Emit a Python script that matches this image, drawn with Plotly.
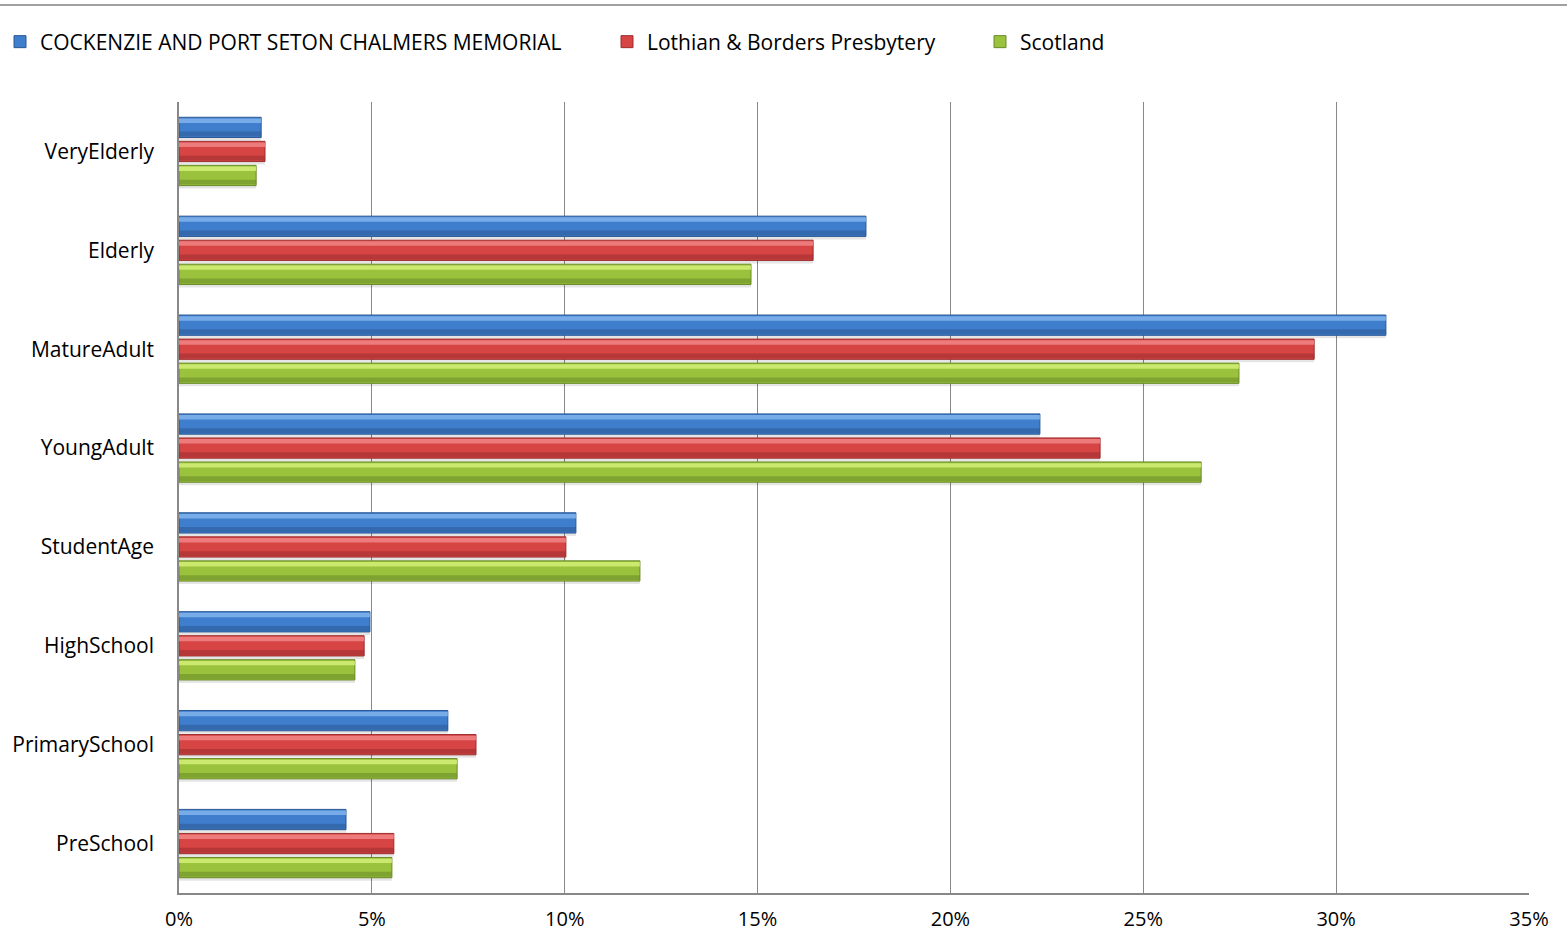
import plotly.graph_objects as go

categories = ["VeryElderly", "Elderly", "MatureAdult", "YoungAdult",
              "StudentAge", "HighSchool", "PrimarySchool", "PreSchool"]
cockenzie = [2.13, 17.81, 31.29, 22.32, 10.29, 4.95, 6.97, 4.33]
lothian = [2.23, 16.44, 29.43, 23.88, 10.03, 4.80, 7.70, 5.57]
scotland = [2.00, 14.83, 27.48, 26.50, 11.95, 4.56, 7.21, 5.52]
series_names = ["COCKENZIE AND PORT SETON CHALMERS MEMORIAL",
                "Lothian & Borders Presbytery", "Scotland"]
x_ticks = [0, 5, 10, 15, 20, 25, 30, 35]

W, H = 1567, 935
PX0, PX1, PY0, PY1 = 179, 1529, 102, 893  # plot area in pixels

body = ["#3F7ECD", "#D64444", "#9AC23C"]
light = ["#86B8F0", "#F28A8A", "#D6F27A"]
dark = ["#2B5894", "#9C2E2E", "#6A8A28"]
centers = [-0.243, 0.0, 0.243]
legend_ids = ["legend", "legend2", "legend3"]
legend_px = [0, 607, 980]
BW = 0.205

fig = go.Figure()
for vals, name, c, lc, dc, cen, lg in zip([cockenzie, lothian, scotland], series_names,
                                          body, light, dark, centers, legend_ids):
    fig.add_trace(go.Bar(y=categories, x=vals, orientation="h", showlegend=False,
                         hoverinfo="skip", width=BW, offset=cen - BW / 2 + 0.03,
                         marker=dict(color="rgba(0,0,0,0.10)", line=dict(width=0))))
    fig.add_trace(go.Bar(y=categories, x=vals, orientation="h", name=name, legend=lg,
                         width=BW, offset=cen - BW / 2,
                         marker=dict(color=c, line=dict(color=dc, width=1))))
    fig.add_trace(go.Bar(y=categories, x=vals, orientation="h", showlegend=False,
                         hoverinfo="skip", width=0.045, offset=cen - BW / 2 + 0.012,
                         marker=dict(color=lc, opacity=0.8, line=dict(width=0))))
    fig.add_trace(go.Bar(y=categories, x=vals, orientation="h", showlegend=False,
                         hoverinfo="skip", width=0.05, offset=cen + BW / 2 - 0.06,
                         marker=dict(color=dc, opacity=0.55, line=dict(width=0))))

font = dict(family="Open Sans, Liberation Sans, sans-serif", size=21, color="#000000")
xfont = dict(family="Open Sans, Liberation Sans, sans-serif", size=20, color="#000000")
leg_common = dict(orientation="h", yanchor="middle", xanchor="left", y=(H - 42) / H,
                  font=font, bgcolor="rgba(0,0,0,0)", itemwidth=30)

fig.update_layout(
    width=W, height=H,
    margin=dict(l=0, r=0, t=0, b=0),
    paper_bgcolor="white", plot_bgcolor="white",
    barmode="overlay",
    showlegend=True,
    font=font,
    legend=dict(x=legend_px[0] / W, **leg_common),
    legend2=dict(x=legend_px[1] / W, **leg_common),
    legend3=dict(x=legend_px[2] / W, **leg_common),
    xaxis=dict(domain=[PX0 / W, PX1 / W], range=[0, 35], tickvals=x_ticks,
               ticktext=[f"{v}%" for v in x_ticks],
               showgrid=True, gridcolor="#888888", gridwidth=1.3,
               showline=True, linecolor="#888888", linewidth=1.5,
               ticks="", ticklabelstandoff=7, zeroline=False, automargin=False,
               tickfont=xfont, fixedrange=True),
    yaxis=dict(domain=[(H - PY1) / H, (H - PY0) / H],
               categoryorder="array", categoryarray=categories, autorange="reversed",
               showgrid=False, showline=True, linecolor="#888888", linewidth=1.5,
               ticks="", ticklabelstandoff=19, automargin=False, tickfont=font,
               fixedrange=True),
    shapes=[dict(type="line", xref="paper", yref="paper", x0=0, x1=1,
                 y0=(H - 5) / H, y1=(H - 5) / H,
                 line=dict(color="#A0A0A0", width=2))],
)

fig.write_html("out.html", config={"displayModeBar": False},
               post_script="document.body.style.margin='0px';")
